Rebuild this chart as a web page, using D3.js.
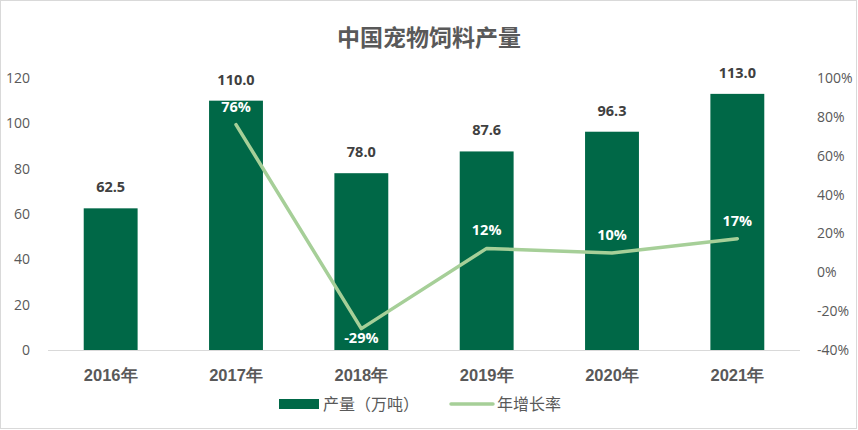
<!DOCTYPE html>
<html><head><meta charset="utf-8">
<script src="https://cdn.jsdelivr.net/npm/d3@7/dist/d3.min.js"></script>
<style>
html,body{margin:0;padding:0;background:#fff;}
svg{display:block;font-family:"Open Sans","Noto Sans CJK SC",sans-serif;}
</style></head>
<body>
<svg id="chart" width="858" height="430"></svg>
<script>
const years = ["2016年","2017年","2018年","2019年","2020年","2021年"];
const output = [62.5, 110.0, 78.0, 87.6, 96.3, 113.0];
const growth = [null, 0.76, -0.29, 0.123, 0.099, 0.173];
const leftTicks = [0,20,40,60,80,100,120];
const rightTicks = [-0.4,-0.2,0,0.2,0.4,0.6,0.8,1.0];
const title = "中国宠物饲料产量";
const seriesNames = ["产量（万吨）","年增长率"];

const W = 858, H = 430;
const svg = d3.select("#chart");
const barColor = "#006847", lineColor = "#A6CF98", textGray = "#595959";
const pct = d => Math.round(d*100) + "%";

svg.append("rect").attr("x",0.5).attr("y",0.5).attr("width",W-2).attr("height",H-2)
  .attr("fill","#fff").attr("stroke","#d9d9d9");

const x = d3.scaleBand().domain(years).range([48,800]).paddingInner(0.57).paddingOuter(0.285);
const yL = d3.scaleLinear().domain([0,120]).range([350,78]);
const yR = d3.scaleLinear().domain([-0.4,1.0]).range([350,78]);

svg.append("text").attr("x",429).attr("y",46).attr("text-anchor","middle")
  .attr("font-size",23).attr("font-weight","bold").attr("fill",textGray)
  .attr("font-family","'Noto Sans CJK SC',sans-serif").text(title);

// left axis
const gL = svg.append("g").attr("transform","translate(30,0)")
  .call(d3.axisLeft(yL).tickValues(leftTicks).tickSize(0).tickPadding(0));
gL.select(".domain").remove();
gL.selectAll("text").attr("font-size",14).attr("fill",textGray).attr("font-family","'Open Sans',sans-serif");

// right axis
const gR = svg.append("g").attr("transform","translate(817,0)")
  .call(d3.axisRight(yR).tickValues(rightTicks).tickSize(0).tickPadding(0).tickFormat(pct));
gR.select(".domain").remove();
gR.selectAll("text").attr("font-size",14).attr("fill",textGray).attr("font-family","'Open Sans',sans-serif");

// bars
svg.append("g").selectAll("rect").data(output).join("rect")
  .attr("x",(d,i)=>x(years[i])).attr("width",x.bandwidth())
  .attr("y",d=>yL(d)).attr("height",d=>yL(0)-yL(d)).attr("fill",barColor);

// baseline
svg.append("line").attr("x1",48).attr("x2",800).attr("y1",yL(0)+0.5).attr("y2",yL(0)+0.5)
  .attr("stroke","#d9d9d9").attr("stroke-width",1);

// x axis labels
const gX = svg.append("g").attr("transform",`translate(0,${yL(0)})`)
  .call(d3.axisBottom(x).tickSize(0).tickPadding(19));
gX.select(".domain").remove();
gX.selectAll("text").attr("font-size",16.5).attr("font-weight","bold").attr("fill",textGray);

// bar labels
svg.append("g").selectAll("text").data(output).join("text")
  .attr("x",(d,i)=>x(years[i])+x.bandwidth()/2).attr("y",d=>yL(d)-16)
  .attr("text-anchor","middle").attr("font-size",14.5).attr("font-weight","bold")
  .attr("fill","#404040").text(d=>d.toFixed(1));

// line
const pts = growth.map((g,i)=>({g,i})).filter(d=>d.g!==null);
const line = d3.line().x(d=>x(years[d.i])+x.bandwidth()/2).y(d=>yR(d.g));
svg.append("path").datum(pts).attr("d",line).attr("fill","none")
  .attr("stroke",lineColor).attr("stroke-width",3.5).attr("stroke-linecap","round").attr("stroke-linejoin","round");

svg.append("g").selectAll("text").data(pts).join("text")
  .attr("x",d=>x(years[d.i])+x.bandwidth()/2)
  .attr("y",d=>d.g<0 ? yR(d.g)+14 : yR(d.g)-13)
  .attr("text-anchor","middle").attr("font-size",14.5).attr("font-weight","bold")
  .attr("fill","#fff").text(d=>pct(d.g));

// legend
const lg = svg.append("g");
lg.append("rect").attr("x",279).attr("y",399).attr("width",40).attr("height",10).attr("fill",barColor);
lg.append("text").attr("x",323).attr("y",410).attr("font-size",16).attr("fill",textGray)
  .attr("font-family","'Noto Sans CJK SC',sans-serif").text(seriesNames[0]);
lg.append("line").attr("x1",451).attr("x2",493).attr("y1",404).attr("y2",404)
  .attr("stroke",lineColor).attr("stroke-width",3.5).attr("stroke-linecap","round");
lg.append("text").attr("x",497).attr("y",410).attr("font-size",16).attr("fill",textGray)
  .attr("font-family","'Noto Sans CJK SC',sans-serif").text(seriesNames[1]);
</script>
</body></html>
